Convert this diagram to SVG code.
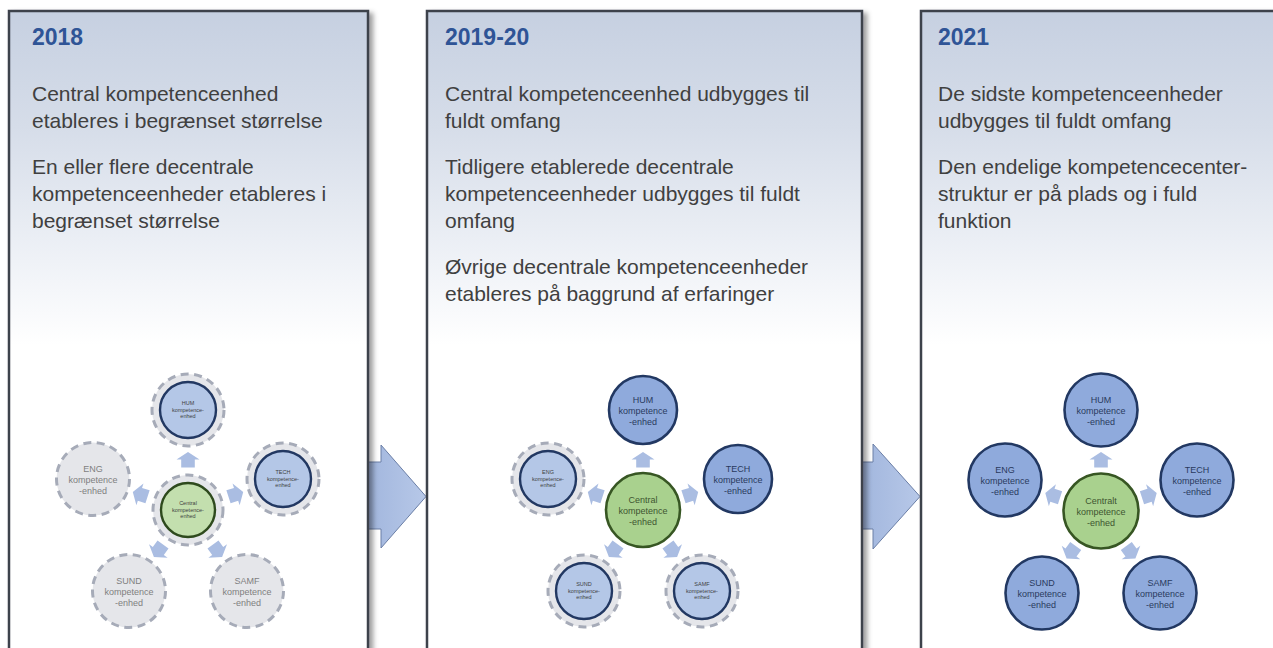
<svg xmlns="http://www.w3.org/2000/svg" width="1273" height="648" viewBox="0 0 1273 648">
  <defs>
    <!-- panel background: pale steel blue at the top fading to white -->
    <linearGradient id="panelFill" x1="0" y1="11" x2="0" y2="345" gradientUnits="userSpaceOnUse">
      <stop offset="0" stop-color="#c6d0e1"/>
      <stop offset="0.35" stop-color="#d6dde9"/>
      <stop offset="0.75" stop-color="#eff2f7"/>
      <stop offset="1" stop-color="#ffffff"/>
    </linearGradient>
    <linearGradient id="bigArrowFill" x1="0" y1="0" x2="1" y2="0">
      <stop offset="0" stop-color="#9fb4dc"/>
      <stop offset="1" stop-color="#b7c8e8"/>
    </linearGradient>
    <filter id="panelShadow" x="-5%" y="-5%" width="112%" height="112%">
      <feDropShadow dx="4" dy="3" stdDeviation="2.6" flood-color="#000" flood-opacity="0.38"/>
    </filter>
    <!-- small block arrow pointing up, centred on the origin -->
    <path id="smallArrow" d="M0,-8 L11.5,-0.5 L6.8,-0.5 L6.8,7.5 L-6.8,7.5 L-6.8,-0.5 L-11.5,-0.5 Z"/>
  </defs>

  <style>
    .panel { fill: url(#panelFill); stroke: #3c424c; stroke-width: 2.5; filter: url(#panelShadow); }
    .year { font-family: "Liberation Sans", Arial, sans-serif; font-weight: bold; font-size: 23px; fill: #2f5496; }
    .body { font-family: "Liberation Sans", Arial, sans-serif; font-size: 21px; fill: #404040; }
    .bigArrow { fill: url(#bigArrowFill); stroke: #6a7ea6; stroke-width: 1; }
    .smallArrow { fill: #aabde2; }
    .ring { fill: #e5e6ea; stroke: #a6abb8; stroke-width: 3; stroke-dasharray: 8 5.5; }
    .paleBlue { fill: #b4c7e7; stroke: #223862; stroke-width: 2.4; }
    .paleGreen { fill: #c3dfae; stroke: #2e4a1d; stroke-width: 2.4; }
    .blue { fill: #8faadc; stroke: #223862; stroke-width: 2.6; }
    .green { fill: #a9d18e; stroke: #375623; stroke-width: 2.6; }
    .lbl { font-family: "Liberation Sans", Arial, sans-serif; font-size: 9px; text-anchor: middle; }
    .lblBlue { fill: #2a3a5e; }
    .lblGreen { fill: #3e5530; }
    .lblGrey { fill: #7f7f7f; }
    .tiny { font-family: "Liberation Sans", Arial, sans-serif; font-size: 5.5px; text-anchor: middle; fill: #3f3f3f; }
  </style>

  <rect width="1273" height="648" fill="#ffffff"/>

  <!-- arrows between the phases (drawn under the panels) -->
  <g id="phase-arrows">
    <path class="bigArrow" d="M360,462 L381,462 L381,445 L426,496.5 L381,548 L381,529 L360,529 Z"/>
    <path class="bigArrow" d="M855,462 L873,462 L873,444 L920,496.5 L873,549 L873,529 L855,529 Z"/>
  </g>

  <!-- phase 1: 2018 -->
  <g id="panel-2018">
    <rect class="panel" x="9" y="11" width="359" height="700"/>
    <text class="year" x="32" y="45">2018</text>
    <text class="body" x="32" y="101">Central kompetenceenhed<tspan x="32" dy="27">etableres i begrænset størrelse</tspan><tspan x="32" dy="46">En eller flere decentrale</tspan><tspan x="32" dy="27">kompetenceenheder etableres i</tspan><tspan x="32" dy="27">begrænset størrelse</tspan></text>
  </g>

  <!-- phase 2: 2019-20 -->
  <g id="panel-2019-20">
    <rect class="panel" x="427" y="11" width="435" height="700"/>
    <text class="year" x="445" y="45">2019-20</text>
    <text class="body" x="445" y="101">Central kompetenceenhed udbygges til<tspan x="445" dy="27">fuldt omfang</tspan><tspan x="445" dy="46">Tidligere etablerede decentrale</tspan><tspan x="445" dy="27">kompetenceenheder udbygges til fuldt</tspan><tspan x="445" dy="27">omfang</tspan><tspan x="445" dy="46">Øvrige decentrale kompetenceenheder</tspan><tspan x="445" dy="27">etableres på baggrund af erfaringer</tspan></text>
  </g>

  <!-- phase 3: 2021 -->
  <g id="panel-2021">
    <rect class="panel" x="921" y="11" width="359" height="700"/>
    <text class="year" x="938" y="45">2021</text>
    <text class="body" x="938" y="101">De sidste kompetenceenheder<tspan x="938" dy="27">udbygges til fuldt omfang</tspan><tspan x="938" dy="46">Den endelige kompetencecenter-</tspan><tspan x="938" dy="27">struktur er på plads og i fuld</tspan><tspan x="938" dy="27">funktion</tspan></text>
  </g>

  <!-- links from each central unit out to the faculty units -->
  <g id="connectors">
    <use href="#smallArrow" class="smallArrow" transform="translate(188,460)"/>
    <use href="#smallArrow" class="smallArrow" transform="translate(235.6,494.5) rotate(72)"/>
    <use href="#smallArrow" class="smallArrow" transform="translate(217.4,550.5) rotate(144)"/>
    <use href="#smallArrow" class="smallArrow" transform="translate(158.6,550.5) rotate(-144)"/>
    <use href="#smallArrow" class="smallArrow" transform="translate(140.4,494.5) rotate(-72)"/>

    <use href="#smallArrow" class="smallArrow" transform="translate(643,460)"/>
    <use href="#smallArrow" class="smallArrow" transform="translate(690.6,494.5) rotate(72)"/>
    <use href="#smallArrow" class="smallArrow" transform="translate(672.4,550.5) rotate(144)"/>
    <use href="#smallArrow" class="smallArrow" transform="translate(613.6,550.5) rotate(-144)"/>
    <use href="#smallArrow" class="smallArrow" transform="translate(595.4,494.5) rotate(-72)"/>

    <use href="#smallArrow" class="smallArrow" transform="translate(1101,460)"/>
    <use href="#smallArrow" class="smallArrow" transform="translate(1149.1,495.4) rotate(72)"/>
    <use href="#smallArrow" class="smallArrow" transform="translate(1130.7,552) rotate(144)"/>
    <use href="#smallArrow" class="smallArrow" transform="translate(1071.3,552) rotate(-144)"/>
    <use href="#smallArrow" class="smallArrow" transform="translate(1052.9,495.4) rotate(-72)"/>
  </g>

  <!-- 2018 units: central and HUM/TECH started small, the rest not yet established -->
  <g id="p1-central">
    <circle class="ring" cx="188" cy="510" r="35"/>
    <circle class="paleGreen" cx="188" cy="510" r="27"/>
    <text class="tiny" x="188" y="505">Central<tspan x="188" dy="6.5">kompetence-</tspan><tspan x="188" dy="6.5">enhed</tspan></text>
  </g>
  <g id="p1-hum">
    <circle class="ring" cx="188" cy="410" r="36"/>
    <circle class="paleBlue" cx="188" cy="410" r="28"/>
    <text class="tiny" x="188" y="405">HUM<tspan x="188" dy="6.5">kompetence-</tspan><tspan x="188" dy="6.5">enhed</tspan></text>
  </g>
  <g id="p1-tech">
    <circle class="ring" cx="283" cy="479" r="36"/>
    <circle class="paleBlue" cx="283" cy="479" r="28"/>
    <text class="tiny" x="283" y="474">TECH<tspan x="283" dy="6.5">kompetence-</tspan><tspan x="283" dy="6.5">enhed</tspan></text>
  </g>
  <g id="p1-samf">
    <circle class="ring" cx="247" cy="591" r="36.5"/>
    <text class="lbl lblGrey" x="247" y="584">SAMF<tspan x="247" dy="11">kompetence</tspan><tspan x="247" dy="11">-enhed</tspan></text>
  </g>
  <g id="p1-sund">
    <circle class="ring" cx="129" cy="591" r="36.5"/>
    <text class="lbl lblGrey" x="129" y="584">SUND<tspan x="129" dy="11">kompetence</tspan><tspan x="129" dy="11">-enhed</tspan></text>
  </g>
  <g id="p1-eng">
    <circle class="ring" cx="93" cy="479" r="36.5"/>
    <text class="lbl lblGrey" x="93" y="472">ENG<tspan x="93" dy="11">kompetence</tspan><tspan x="93" dy="11">-enhed</tspan></text>
  </g>

  <!-- 2019-20 units -->
  <g id="p2-central">
    <circle class="green" cx="643" cy="510" r="37"/>
    <text class="lbl lblGreen" x="643" y="503">Central<tspan x="643" dy="11">kompetence</tspan><tspan x="643" dy="11">-enhed</tspan></text>
  </g>
  <g id="p2-hum">
    <circle class="blue" cx="643" cy="410" r="34"/>
    <text class="lbl lblBlue" x="643" y="403">HUM<tspan x="643" dy="11">kompetence</tspan><tspan x="643" dy="11">-enhed</tspan></text>
  </g>
  <g id="p2-tech">
    <circle class="blue" cx="738" cy="479" r="34"/>
    <text class="lbl lblBlue" x="738" y="472">TECH<tspan x="738" dy="11">kompetence</tspan><tspan x="738" dy="11">-enhed</tspan></text>
  </g>
  <g id="p2-samf">
    <circle class="ring" cx="702" cy="591" r="36"/>
    <circle class="paleBlue" cx="702" cy="591" r="28"/>
    <text class="tiny" x="702" y="586">SAMF<tspan x="702" dy="6.5">kompetence-</tspan><tspan x="702" dy="6.5">enhed</tspan></text>
  </g>
  <g id="p2-sund">
    <circle class="ring" cx="584" cy="591" r="36"/>
    <circle class="paleBlue" cx="584" cy="591" r="28"/>
    <text class="tiny" x="584" y="586">SUND<tspan x="584" dy="6.5">kompetence-</tspan><tspan x="584" dy="6.5">enhed</tspan></text>
  </g>
  <g id="p2-eng">
    <circle class="ring" cx="548" cy="479" r="36"/>
    <circle class="paleBlue" cx="548" cy="479" r="28"/>
    <text class="tiny" x="548" y="474">ENG<tspan x="548" dy="6.5">kompetence-</tspan><tspan x="548" dy="6.5">enhed</tspan></text>
  </g>

  <!-- 2021 units: full structure in place -->
  <g id="p3-central">
    <circle class="green" cx="1101" cy="511" r="37.5"/>
    <text class="lbl lblGreen" x="1101" y="504">Centralt<tspan x="1101" dy="11">kompetence</tspan><tspan x="1101" dy="11">-enhed</tspan></text>
  </g>
  <g id="p3-hum">
    <circle class="blue" cx="1101" cy="410" r="36.5"/>
    <text class="lbl lblBlue" x="1101" y="403">HUM<tspan x="1101" dy="11">kompetence</tspan><tspan x="1101" dy="11">-enhed</tspan></text>
  </g>
  <g id="p3-tech">
    <circle class="blue" cx="1197" cy="480" r="36.5"/>
    <text class="lbl lblBlue" x="1197" y="473">TECH<tspan x="1197" dy="11">kompetence</tspan><tspan x="1197" dy="11">-enhed</tspan></text>
  </g>
  <g id="p3-samf">
    <circle class="blue" cx="1160" cy="593" r="36.5"/>
    <text class="lbl lblBlue" x="1160" y="586">SAMF<tspan x="1160" dy="11">kompetence</tspan><tspan x="1160" dy="11">-enhed</tspan></text>
  </g>
  <g id="p3-sund">
    <circle class="blue" cx="1042" cy="593" r="36.5"/>
    <text class="lbl lblBlue" x="1042" y="586">SUND<tspan x="1042" dy="11">kompetence</tspan><tspan x="1042" dy="11">-enhed</tspan></text>
  </g>
  <g id="p3-eng">
    <circle class="blue" cx="1005" cy="480" r="36.5"/>
    <text class="lbl lblBlue" x="1005" y="473">ENG<tspan x="1005" dy="11">kompetence</tspan><tspan x="1005" dy="11">-enhed</tspan></text>
  </g>
</svg>
